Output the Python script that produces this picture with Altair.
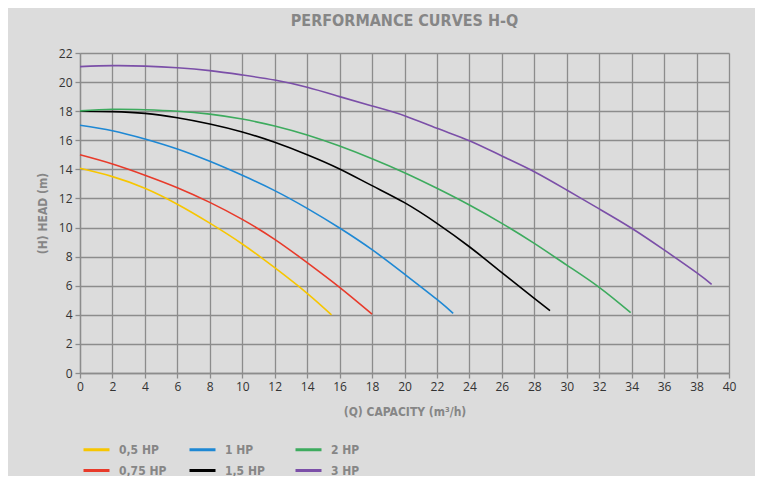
import altair as alt
import pandas as pd

series_names = ["0,5 HP", "0,75 HP", "1 HP", "1,5 HP", "2 HP", "3 HP"]
series_colors = ["#f7c600", "#e83a2a", "#1e88d4", "#000000", "#3dab5e", "#7b4fa8"]
legend_order = ["0,5 HP", "1 HP", "2 HP", "0,75 HP", "1,5 HP", "3 HP"]

q_05 = [0, 2, 4, 6, 8, 10, 12, 14, 15.5]
h_05 = [14.07, 13.5, 12.7, 11.6, 10.3, 8.87, 7.24, 5.48, 4.0]

q_075 = [0, 2, 4, 6, 8, 10, 12, 14, 16, 18]
h_075 = [15.0, 14.37, 13.6, 12.74, 11.73, 10.56, 9.19, 7.59, 5.89, 4.05]

q_1 = [0, 2, 4, 6, 8, 10, 12, 14, 16, 18, 20, 22, 23]
h_1 = [17.03, 16.66, 16.09, 15.4, 14.55, 13.59, 12.54, 11.32, 9.97, 8.48, 6.8, 5.06, 4.1]

q_15 = [0, 2, 4, 6, 8, 10, 12, 14, 16, 18, 20, 22, 24, 26, 28, 28.97]
h_15 = [18.0, 17.97, 17.85, 17.55, 17.12, 16.57, 15.86, 15.01, 14.03, 12.88, 11.71,
        10.29, 8.68, 6.9, 5.13, 4.29]

q_2 = [0, 2, 4, 6, 8, 10, 12, 14, 16, 18, 20, 22, 24, 26, 28, 30, 32, 33.94]
h_2 = [18.02, 18.13, 18.1, 18.0, 17.8, 17.46, 16.98, 16.36, 15.6, 14.73, 13.77, 12.7,
       11.55, 10.29, 8.91, 7.42, 5.89, 4.15]

q_3 = [0, 2, 4, 6, 8, 10, 12, 14, 16, 18, 20, 22, 24, 26, 28, 30, 32, 34, 36, 38, 38.93]
h_3 = [21.06, 21.13, 21.1, 20.99, 20.79, 20.49, 20.14, 19.64, 19.0, 18.36, 17.69, 16.82,
       15.97, 14.92, 13.84, 12.58, 11.28, 9.95, 8.46, 6.9, 6.1]

x_ticks = list(range(0, 41, 2))
y_ticks = list(range(0, 23, 2))

rows = []
for name, qs, hs in [("0,5 HP", q_05, h_05), ("0,75 HP", q_075, h_075), ("1 HP", q_1, h_1),
                     ("1,5 HP", q_15, h_15), ("2 HP", q_2, h_2), ("3 HP", q_3, h_3)]:
    for i, (q, h) in enumerate(zip(qs, hs)):
        rows.append({"series": name, "Q": q, "H": h, "order": i})
df = pd.DataFrame(rows)

cond = "DejaVu Sans Condensed, Liberation Sans Narrow, sans-serif"
grey = "#868686"

color_scale = alt.Scale(domain=legend_order,
                        range=[series_colors[series_names.index(n)] for n in legend_order])

chart = alt.Chart(df).mark_line(strokeWidth=1.6, interpolate="natural").encode(
    x=alt.X("Q:Q", scale=alt.Scale(domain=[0, 40], nice=False),
            axis=alt.Axis(values=x_ticks, title="(Q) CAPACITY (m³/h)", titlePadding=14,
                          labelFlush=False)),
    y=alt.Y("H:Q", scale=alt.Scale(domain=[0, 22], nice=False),
            axis=alt.Axis(values=y_ticks, title="(H) HEAD (m)", titlePadding=9,
                          labelFlush=False)),
    color=alt.Color("series:N", scale=color_scale,
                    legend=alt.Legend(title=None, orient="none", legendX=2, legendY=382,
                                      direction="horizontal", columns=3, gridAlign="all",
                                      symbolType="stroke", symbolSize=676,
                                      symbolStrokeWidth=3, labelOffset=8,
                                      columnPadding=16, rowPadding=-5,
                                      labelFont=cond, labelFontSize=12,
                                      labelFontWeight="bold", labelColor=grey)),
    detail="series:N",
    order="order:Q",
).properties(
    width=649, height=320,
    title=alt.TitleParams("PERFORMANCE CURVES H-Q", font=cond, fontSize=16,
                          fontWeight="bold", color=grey, anchor="middle", offset=18),
    background="#dcdcdc",
    padding={"left": 72, "top": 45, "right": 26, "bottom": 103},
    autosize=alt.AutoSizeParams(type="none"),
).configure_view(
    stroke=None
).configure_axis(
    grid=True, gridColor="#8c8c8c", gridWidth=1.3, gridOpacity=1,
    domainColor="#8c8c8c", domainWidth=1.3,
    tickColor="#8c8c8c", tickSize=5, tickWidth=1.3,
    labelFont="Open Sans", labelFontSize=12, labelColor="#333333", labelPadding=3,
    titleFont=cond, titleFontSize=12, titleFontWeight="bold", titleColor=grey,
)

chart.save("out.html", embed_options={"renderer": "svg", "actions": False})
